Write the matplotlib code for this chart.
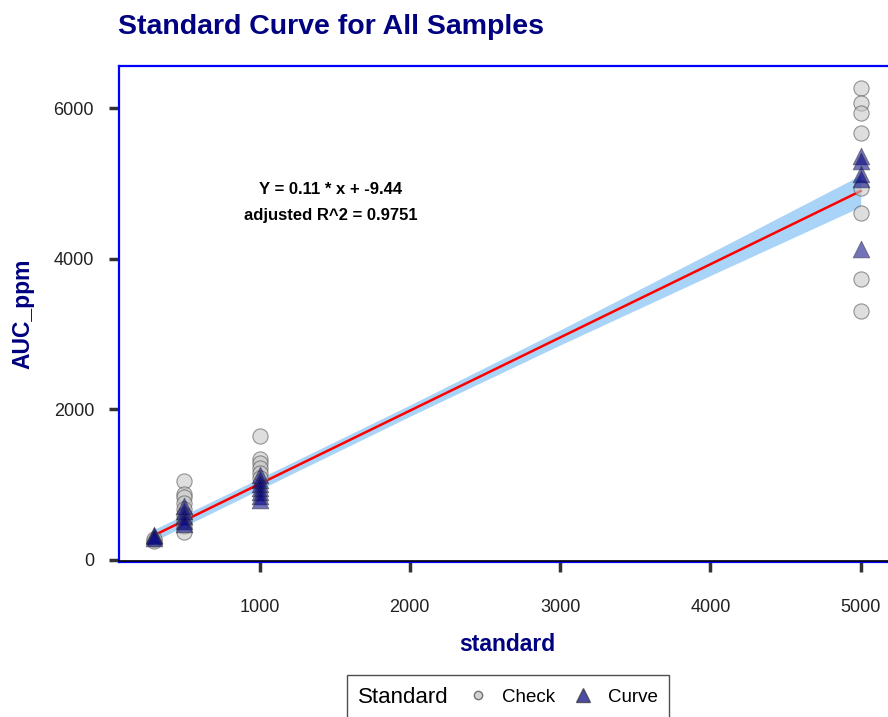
import matplotlib.pyplot as plt
from matplotlib.lines import Line2D
from matplotlib.offsetbox import HPacker

# valores
check_x = [300, 300,
           500, 500, 500, 500, 500, 500, 500, 500, 500,
           1000, 1000, 1000, 1000, 1000, 1000,
           5000, 5000, 5000, 5000, 5000, 5000, 5000, 5000]
check_y = [255, 275,
           1040, 880, 830, 760, 680, 600, 520, 450, 370,
           1650, 1340, 1290, 1220, 1150, 1080,
           6270, 6070, 5940, 5675, 4944, 4612, 3732, 3307]
curve_x = [300, 300, 300,
           500, 500, 500, 500, 500,
           1000, 1000, 1000, 1000, 1000, 1000, 1000,
           5000, 5000, 5000, 5000, 5000]
curve_y = [330, 310, 295,
           720, 650, 580, 520, 480,
           1120, 1060, 1000, 950, 900, 850, 790,
           5360, 5300, 5130, 5060, 4130]

# recta ajustada y banda de confianza
fit_x = [300, 1000, 2000, 3000, 4000, 5000]
fit_y = [326, 1007, 1980, 2953, 3926, 4899]
band_low = [250, 932, 1905, 2853, 3776, 4690]
band_high = [405, 1082, 2055, 3053, 4076, 5110]

x_ticks = [1000, 2000, 3000, 4000, 5000]
y_ticks = [0, 2000, 4000, 6000]
eq_text = "Y = 0.11 * x + -9.44"
r2_text = "adjusted R^2 = 0.9751"

navy = "#000080"
plt.rcParams['font.family'] = ['Liberation Sans', 'DejaVu Sans']

fig = plt.figure(figsize=(8.88, 7.17), dpi=100)
ax = fig.add_axes([119 / 888, 1 - 562 / 717, (896 - 119) / 888, (562 - 66) / 717])

ax.fill_between(fit_x, band_low, band_high, color="#a9d4f7", lw=0, zorder=1)
ax.plot(fit_x, fit_y, color="red", lw=1.8, zorder=2)
ax.scatter(check_x, check_y, s=120, marker="o", facecolor="#c8c8c8",
           edgecolor="#555555", linewidths=0.8, alpha=0.6, zorder=3)
ax.scatter(curve_x, curve_y, s=145, marker="^", facecolor=navy,
           edgecolor="#333333", linewidths=0.6, alpha=0.55, zorder=4)

ax.text(1474, 4914, eq_text, ha="center", va="center", fontsize=12, fontweight="bold")
ax.text(1474, 4568, r2_text, ha="center", va="center", fontsize=12, fontweight="bold")

ax.set_xlim(65, 5235)
ax.set_ylim(-30, 6560)
ax.set_xticks(x_ticks)
ax.set_yticks(y_ticks)
ax.tick_params(axis="both", colors="#333333", length=7, width=2.5, labelsize=13)
ax.tick_params(axis="x", pad=20)
ax.tick_params(axis="y", pad=11)
for lab in ax.get_xticklabels() + ax.get_yticklabels():
    lab.set_color("#222222")

for sp in ax.spines.values():
    sp.set_color("#0000ff")
    sp.set_linewidth(1.6)
ax.plot([0, 1], [0.003, 0.003], transform=ax.transAxes, color="black",
        lw=1.2, clip_on=False, zorder=5)

ax.set_xlabel("standard", fontsize=16.5, fontweight="bold", color=navy, labelpad=12)
ax.set_ylabel("AUC_ppm", fontsize=16.5, fontweight="bold", color=navy, labelpad=14)
fig.text(118 / 888, 1 - 27 / 717, "Standard Curve for All Samples", fontsize=20.5,
         fontweight="bold", color=navy, ha="left", va="center")

handles = [Line2D([], [], marker="o", ls="none", markersize=6, markerfacecolor="#c8c8c8",
                  markeredgecolor="#555555", alpha=0.8),
           Line2D([], [], marker="^", ls="none", markersize=10, markerfacecolor=navy,
                  markeredgecolor="#333333", alpha=0.7)]
leg = fig.legend(handles, ["Check", "Curve"], title="Standard", title_fontsize=16,
                 loc="upper center", bbox_to_anchor=(508 / 888, 1 - 666 / 717), ncol=2,
                 fontsize=13.5, frameon=True, fancybox=False, edgecolor="#222222",
                 handlelength=1.0, handletextpad=0.8, columnspacing=1.0, borderpad=0.6)
leg.get_frame().set_linewidth(1.0)
# titulo de la leyenda a la izquierda, como en ggplot
leg._legend_box.__class__ = HPacker
leg._legend_box.sep = 14

fig.savefig("out.png", dpi=100)
